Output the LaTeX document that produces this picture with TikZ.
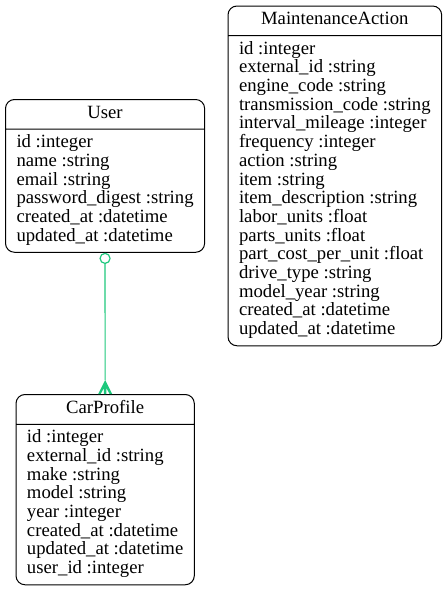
\documentclass[tikz,border=0pt]{standalone}
\usepackage{fontspec}
\setmainfont{Liberation Serif}
\usetikzlibrary{shapes.multipart}
\definecolor{relgreen}{RGB}{30,200,125}

\begin{document}
\begin{tikzpicture}[x=1pt,y=-1pt,
    entity/.style={rectangle split, rectangle split parts=2, draw, line width=1pt,
      rounded corners=9pt, inner xsep=11pt, inner ysep=5pt, align=left,
      rectangle split part align={center,left}, anchor=north west,
      font=\fontsize{18.7}{18.7}\selectfont},
    rel/.style={draw=relgreen, line width=1.2pt}]
  \useasboundingbox (0,0) rectangle (445,589);

  % User
  \node[entity] (user) at (5,99) {\strut User
    \nodepart{two} id :integer\\ name :string\\ email :string\\
    password\_digest :string\\ created\_at :datetime\\ updated\_at :datetime\strut};

  % MaintenanceAction
  \node[entity] (action) at (227.5,5.5) {\strut MaintenanceAction
    \nodepart{two} id :integer\\ external\_id :string\\ engine\_code :string\\
    transmission\_code :string\\ interval\_mileage :integer\\ frequency :integer\\
    action :string\\ item :string\\ item\_description :string\\
    labor\_units :float\\ parts\_units :float\\ part\_cost\_per\_unit :float\\
    drive\_type :string\\ model\_year :string\\ created\_at :datetime\\
    updated\_at :datetime\strut};

  % CarProfile
  \node[entity] (car) at (15.5,394) {\strut CarProfile
    \nodepart{two} id :integer\\ external\_id :string\\ make :string\\
    model :string\\ year :integer\\ created\_at :datetime\\
    updated\_at :datetime\\ user\_id :integer\strut};

  % User 0..1 -- many CarProfile
  \node[circle, rel, fill=white, inner sep=0pt, minimum size=10pt, anchor=north] (zero) at (user.south) {};
  \coordinate (crowtip) at ([yshift=14pt]car.north);
  \draw[rel] (zero) -- (crowtip);
  \fill[relgreen, shift={(car.north)}] (0,-14) -- (-7,0) -- (-4.5,0) -- (-1.2,-6)
    -- (-1.2,0) -- (1.2,0) -- (1.2,-6) -- (4.5,0) -- (7,0) -- cycle;
\end{tikzpicture}
\end{document}
